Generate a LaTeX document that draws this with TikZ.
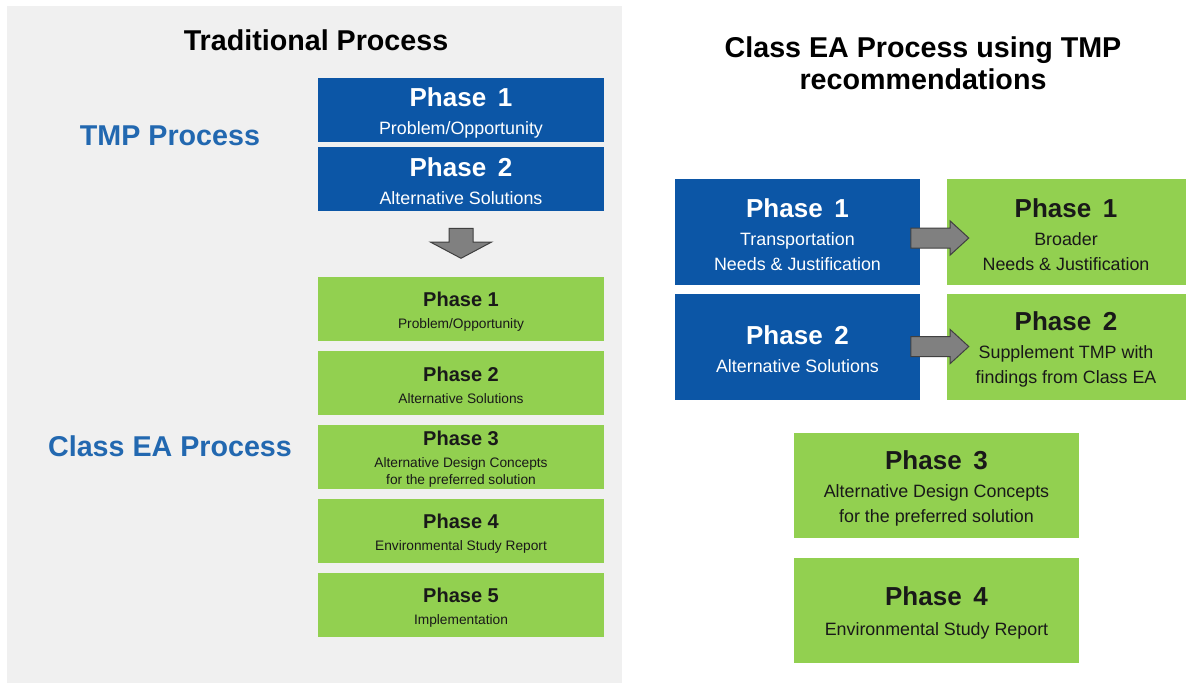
\documentclass[tikz,border=0pt]{standalone}
\usepackage{fontspec}
\setmainfont{Liberation Sans}
\usetikzlibrary{positioning,shapes.arrows}

\definecolor{tmpblue}{RGB}{12,86,166}
\definecolor{labelblue}{RGB}{34,104,176}
\definecolor{eagreen}{RGB}{146,208,80}
\definecolor{panelgray}{RGB}{240,240,240}
\definecolor{arrowgray}{RGB}{128,128,128}
\definecolor{arrowedge}{RGB}{64,64,64}

\newcommand{\phbig}{\fontsize{19.5}{19.5}\selectfont\bfseries}
\newcommand{\phsmall}{\fontsize{15}{15}\selectfont\bfseries\rule{0pt}{14.5pt}}
\newcommand{\phasenum}[1]{\rule{0pt}{18.5pt}Phase\hspace{.45em}#1}

\tikzset{
  box/.style={rectangle, inner sep=0pt, align=center},
  tmpbox/.style={box, fill=tmpblue, text=white, minimum width=214.5pt, minimum height=48pt, font=\fontsize{13.4}{18.75}\selectfont},
  eabox/.style={box, fill=eagreen, text=black!90, minimum width=214.5pt, minimum height=48pt, font=\fontsize{10.3}{12.75}\selectfont},
  bigbox/.style={box, minimum height=79.5pt, font=\fontsize{13.4}{18.75}\selectfont},
  heading/.style={inner sep=0pt, align=center, font=\fontsize{21.5}{24}\selectfont\bfseries},
  blockarrow/.style={single arrow, fill=arrowgray, draw=arrowedge, line width=.75pt, inner xsep=0pt}
}

\begin{document}
\begin{tikzpicture}[x=0.75pt,y=-0.75pt]
   		\useasboundingbox (0,0) rectangle (1186,683);
   		\fill[white] (0,0) rectangle (1186,683);
   		\fill[panelgray] (7,6) rectangle (622,683); % left panel
   		
   		% traditional process
   		\node[heading, anchor=base] (trad) at (316,50) {Traditional Process};
   		\node[heading, anchor=base, text=labelblue] (tmp) at (170,145) {TMP Process};
   		\node[heading, anchor=base, text=labelblue] (ea) at (170,456) {Class EA Process};
   		
   		\node[tmpbox] (t1) at (461,110) {{\phbig\phasenum{1}}\\[2.25pt]Problem/Opportunity};
   		\node[tmpbox, below=3pt of t1] (t2) {{\phbig\phasenum{2}}\\[2.25pt]Alternative Solutions};
   		\node[blockarrow, rotate=-90, anchor=tail, inner ysep=8.625pt, minimum height=22.5pt,
   		      single arrow head extend=13.875pt, single arrow tip angle=124] (down) at ([yshift=-12.75pt]t2.south) {};
   		
   		\node[eabox] (e1) at (461,309) {{\phsmall Phase 1}\\[3.75pt]Problem/Opportunity};
   		\node[eabox, below=7.1pt of e1] (e2) {{\phsmall Phase 2}\\[3.75pt]Alternative Solutions};
   		\node[eabox, below=7.1pt of e2] (e3) {{\phsmall Phase 3}\\[3.75pt]Alternative Design Concepts\\for the preferred solution};
   		\node[eabox, below=7.1pt of e3] (e4) {{\phsmall Phase 4}\\[3.75pt]Environmental Study Report};
   		\node[eabox, below=7.1pt of e4] (e5) {{\phsmall Phase 5}\\[3.75pt]Implementation};
   		
   		% class EA process using TMP recommendations
   		\node[heading, anchor=north] (classea) at (923,36) {Class EA Process using TMP\\recommendations};
   		
   		\node[bigbox, fill=tmpblue, text=white, minimum width=183.75pt] (r1) at (797.5,232)
   		      {{\phbig\phasenum{1}}\\[2.25pt]Transportation\\Needs \& Justification};
   		\node[bigbox, fill=tmpblue, text=white, minimum width=183.75pt, below=6pt of r1] (r2)
   		      {{\phbig\phasenum{2}}\\[2.25pt]Alternative Solutions};
   		\node[bigbox, fill=eagreen, text=black!90, minimum width=179.25pt, right=19.5pt of r1] (g1)
   		      {{\phbig\phasenum{1}}\\[2.25pt]Broader\\Needs \& Justification};
   		\node[bigbox, fill=eagreen, text=black!90, minimum width=179.25pt, right=19.5pt of r2] (g2)
   		      {{\phbig\phasenum{2}}\\[2.25pt]Supplement TMP with\\findings from Class EA};
   		
   		\node[blockarrow, anchor=tail, inner ysep=7.125pt, minimum height=43.5pt,
   		      single arrow head extend=5.25pt, single arrow tip angle=85] (a1) at ([xshift=-7.5pt,yshift=-4.5pt]r1.east) {};
   		\node[blockarrow, anchor=tail, inner ysep=7.125pt, minimum height=43.5pt,
   		      single arrow head extend=5.25pt, single arrow tip angle=85] (a2) at ([xshift=-7.5pt]r2.east) {};
   		
   		\node[bigbox, fill=eagreen, text=black!90, minimum width=213.75pt, minimum height=78.75pt] (p3) at (936.5,485.5)
   		      {{\phbig\phasenum{3}}\\[2.25pt]Alternative Design Concepts\\for the preferred solution};
   		\node[bigbox, fill=eagreen, text=black!90, minimum width=213.75pt, minimum height=78.75pt, below=14.25pt of p3] (p4)
   		      {{\phbig\phasenum{4}}\\[4pt]Environmental Study Report};
\end{tikzpicture}
\end{document}
